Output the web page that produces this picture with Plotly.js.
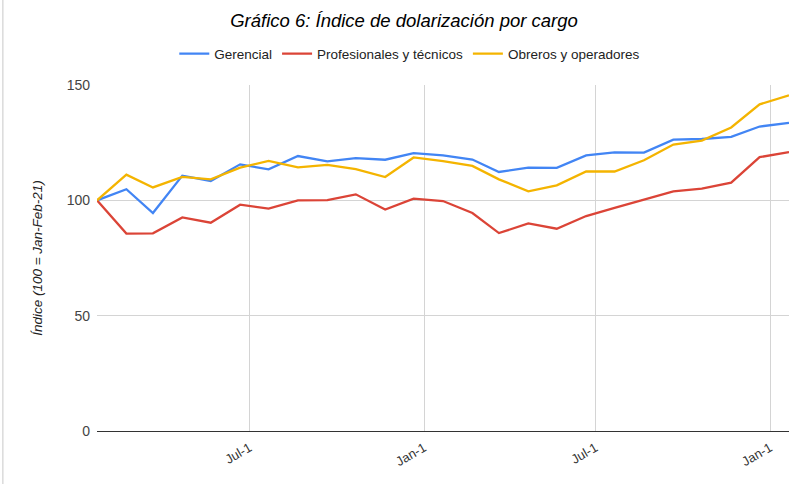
<!DOCTYPE html>
<html>
<head>
<meta charset="utf-8">
<script src="https://cdn.plot.ly/plotly-3.0.1.min.js"></script>
<style>
  html, body { margin: 0; padding: 0; background: #fff; }
  #chart { width: 800px; height: 484px; }
</style>
</head>
<body>
<div id="chart"></div>
<script>
// Monthly observations (Jan-2021 .. Jan-2023)
const dates = [
  "2021-01-21","2021-02-21","2021-03-21","2021-04-21","2021-05-21","2021-06-21",
  "2021-07-21","2021-08-21","2021-09-21","2021-10-21","2021-11-21","2021-12-21",
  "2022-01-21","2022-02-21","2022-03-21","2022-04-21","2022-05-21","2022-06-21",
  "2022-07-21","2022-08-21","2022-09-21","2022-10-21","2022-11-21","2022-12-21",
  "2023-01-21"
];
const gerencial = [
  100, 104.8, 94.5, 110.7, 108.4, 115.6, 113.4, 119.2, 116.9, 118.3, 117.6, 120.5,
  119.5, 117.7, 112.3, 114.2, 114.1, 119.5, 120.8, 120.7, 126.3, 126.6, 127.5, 132.0,
  133.6
];
const profesionales = [
  100, 85.6, 85.7, 92.6, 90.3, 98.1, 96.4, 100.0, 100.1, 102.6, 96.0, 100.7,
  99.7, 94.5, 85.8, 90.0, 87.7, 93.2, 96.7, 100.4, 103.9, 105.1, 107.7, 118.7,
  120.9
];
const obreros = [
  100, 111.1, 105.6, 110.2, 109.1, 114.2, 117.1, 114.3, 115.4, 113.5, 110.1, 118.6,
  117.0, 114.9, 109.1, 103.9, 106.5, 112.5, 112.5, 117.4, 124.2, 125.9, 131.6, 141.6,
  145.5
];
const seriesNames = ["Gerencial", "Profesionales y técnicos", "Obreros y operadores"];
const seriesColors = ["#4285F4", "#DB4437", "#F4B400"];
const tickDates = ["2021-07-01", "2022-01-01", "2022-07-01", "2023-01-01"];
const tickLabels = ["Jul-1", "Jan-1", "Jul-1", "Jan-1"];
const yTicks = [0, 50, 100, 150];

const seriesValues = [gerencial, profesionales, obreros];
const traces = seriesValues.map((vals, i) => ({
  type: "scatter",
  mode: "lines",
  x: dates,
  y: vals,
  name: seriesNames[i],
  line: { color: seriesColors[i], width: 2.3 },
  hoverinfo: "x+y+name"
}));

const layout = {
  width: 800,
  height: 484,
  paper_bgcolor: "#ffffff",
  plot_bgcolor: "#ffffff",
  margin: { l: 97, r: 11, t: 85, b: 53 },
  font: { family: "Arial, 'Liberation Sans', sans-serif", size: 13, color: "#222" },
  title: {
    text: "<i>Gráfico 6: Índice de dolarización por cargo</i>",
    x: 0.505, xanchor: "center",
    y: 0.958, yanchor: "middle",
    font: { family: "Arial, 'Liberation Sans', sans-serif", size: 18.5, color: "#000" }
  },
  showlegend: true,
  legend: {
    orientation: "h",
    x: 0.452, xanchor: "center",
    y: 1.09, yanchor: "middle",
    font: { size: 13.5, color: "#222" },
    itemwidth: 30,
    tracegroupgap: 0
  },
  xaxis: {
    type: "date",
    range: [dates[0], dates[dates.length - 1]],
    tickmode: "array",
    tickvals: tickDates,
    ticktext: tickLabels,
    tickangle: -30,
    tickfont: { size: 13, color: "#333" },
    ticklabelstandoff: 6,
    showgrid: true,
    gridcolor: "#d4d4d4",
    gridwidth: 1,
    zeroline: false,
    showline: false,
    ticks: "",
    fixedrange: true
  },
  yaxis: {
    range: [0, 150],
    tickmode: "array",
    tickvals: yTicks,
    tickfont: { size: 14, color: "#444" },
    showgrid: true,
    gridcolor: "#d4d4d4",
    gridwidth: 1,
    zeroline: true,
    zerolinecolor: "#333",
    zerolinewidth: 1,
    showline: false,
    ticks: "",
    ticklabelstandoff: 6,
    title: {
      text: "<i>Índice (100 = Jan-Feb-21)</i>",
      font: { size: 13.5, color: "#222" },
      standoff: 20
    },
    fixedrange: true
  },
  shapes: [
    { type: "line", xref: "paper", yref: "paper", x0: -0.136, x1: -0.136, y0: -0.2, y1: 1.3,
      line: { color: "#c8c8c8", width: 1 } }
  ]
};

Plotly.newPlot("chart", traces, layout, { displayModeBar: false, staticPlot: true });
</script>
</body>
</html>
